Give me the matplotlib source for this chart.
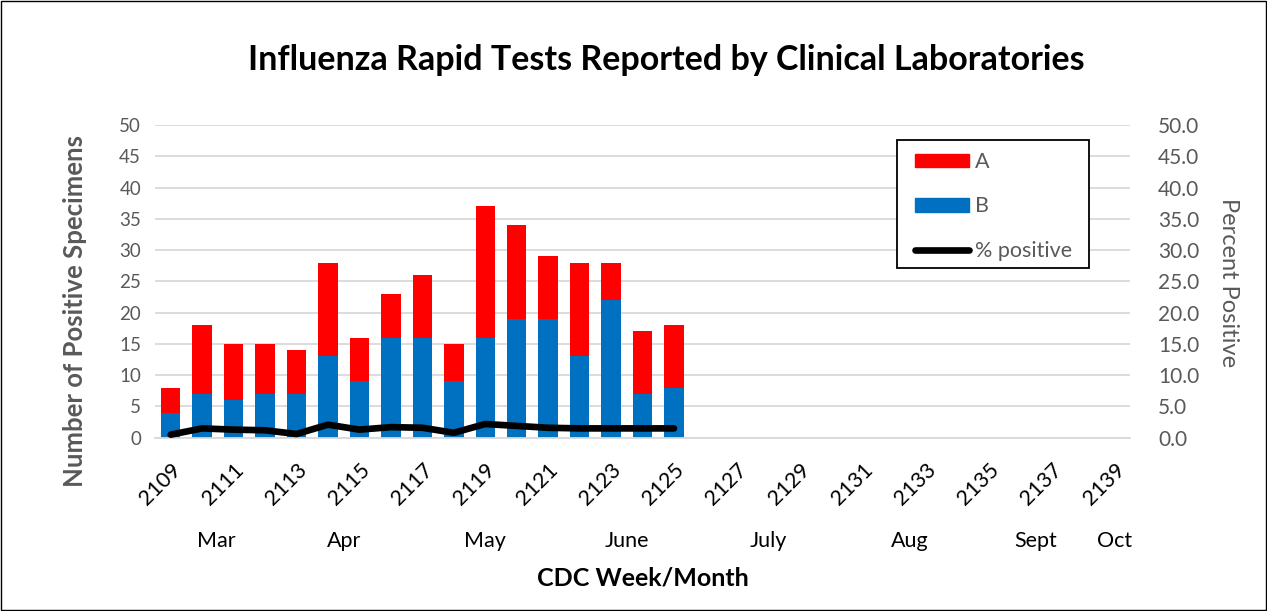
import matplotlib
matplotlib.use("Agg")
import matplotlib.pyplot as plt
from matplotlib.patches import Patch, Rectangle
from matplotlib.lines import Line2D

plt.rcParams['font.family'] = ['Lato', 'DejaVu Sans']

# Data
weeks = [str(w) for w in range(2109, 2140)]
flu_b = [4, 7, 6, 7, 7, 13, 9, 16, 16, 9, 16, 19, 19, 13, 22, 7, 8]
flu_a = [4, 11, 9, 8, 7, 15, 7, 7, 10, 6, 21, 15, 10, 15, 6, 10, 10]
pct_pos = [0.5, 1.5, 1.3, 1.2, 0.6, 2.1, 1.3, 1.7, 1.6, 0.8, 2.2, 1.9, 1.6, 1.5, 1.5, 1.5, 1.5]
months = ["Mar", "Apr", "May", "June", "July", "Aug", "Sept", "Oct"]
month_x = [1.45, 5.5, 10.0, 14.5, 19.0, 23.5, 27.5, 30.0]

grey = "#595959"
fig = plt.figure(figsize=(12.67, 6.11), dpi=100)
ax = fig.add_axes([0.1223, 0.2835, 0.7697, 0.512])

x = list(range(len(flu_b)))
ax.bar(x, flu_b, width=0.62, color="#0070c0", zorder=2)
ax.bar(x, flu_a, width=0.62, bottom=flu_b, color="#ff0000", zorder=2)

ax.set_xlim(-0.5, len(weeks) - 0.5)
ax.set_ylim(0, 50)
ax.set_yticks(range(0, 51, 5))
ax.set_xticks(range(0, len(weeks), 2))
ax.set_xticklabels(weeks[::2], rotation=45, ha="right", rotation_mode="anchor")
ax.yaxis.grid(True, color="#d9d9d9", linewidth=1.3, zorder=0)
ax.set_axisbelow(True)
for s in ["top", "right", "left"]:
    ax.spines[s].set_visible(False)
ax.spines["bottom"].set_color("#d9d9d9")
ax.spines["bottom"].set_linewidth(1.3)
ax.tick_params(axis="y", length=0, labelsize=13.5, colors=grey, pad=10)
ax.tick_params(axis="x", length=0, labelsize=15.5, colors="black", pad=16)
ax.set_ylabel("Number of Positive Specimens", fontsize=18.5, fontweight="bold",
              color=grey)
ax.yaxis.set_label_coords(-0.07, 0.406)

ax2 = ax.twinx()
ax2.plot(x, pct_pos, color="black", linewidth=4.8, solid_capstyle="round", zorder=3)
ax2.set_ylim(0, 50)
ax2.set_yticks(range(0, 51, 5))
ax2.set_yticklabels([f"{v:.1f}" for v in range(0, 51, 5)])
for s in ["top", "right", "left", "bottom"]:
    ax2.spines[s].set_visible(False)
ax2.tick_params(axis="y", length=0, labelsize=15, colors=grey, pad=20)
ax2.set_ylabel("Percent Positive", fontsize=17, color=grey, rotation=270, va="center")
ax2.yaxis.set_label_coords(1.1005, 0.495)

for m, mx in zip(months, month_x):
    ax.annotate(m, xy=(mx, 0), xycoords=("data", "axes fraction"),
                xytext=(0, -103), textcoords="offset pixels",
                ha="center", va="center", fontsize=15.5, color="black")

fig.text(643 / 1267, 1 - 578 / 611, "CDC Week/Month", ha="center", va="center",
         fontsize=18, fontweight="bold")
fig.text(666 / 1267, 1 - 60 / 611, "Influenza Rapid Tests Reported by Clinical Laboratories",
         ha="center", va="center", fontsize=24.5, fontweight="bold")

# legend frame drawn separately so its padding matches the original box
ax2.add_patch(Rectangle((0.761, 0.543), 0.197, 0.409, transform=ax2.transAxes,
                        facecolor="white", edgecolor="black", linewidth=1.3,
                        zorder=4, clip_on=False))
handles = [Patch(color="#ff0000"), Patch(color="#0070c0"),
           Line2D([0], [0], color="black", linewidth=4.8, solid_capstyle="round")]
leg = ax2.legend(handles, ["A", "B", "% positive"], loc="upper left",
                 bbox_to_anchor=(0.7795, 0.913), frameon=False,
                 fontsize=15.5, labelspacing=1.13, handlelength=2.5, handleheight=0.6,
                 borderpad=0, handletextpad=0.3, borderaxespad=0)
leg.set_zorder(5)
for t in leg.get_texts():
    t.set_color(grey)

fig.patches.append(plt.Rectangle((0.001, 0.001), 0.998, 0.998, transform=fig.transFigure,
                                 fill=False, edgecolor="black", linewidth=1))

fig.savefig("out.png", dpi=100)
